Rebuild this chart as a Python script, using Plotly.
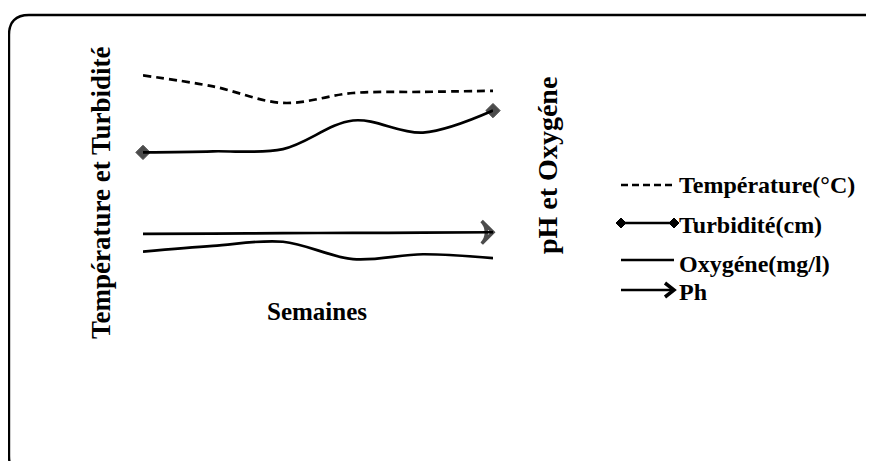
import plotly.graph_objects as go

# ---- data ----
weeks = [1, 2, 3, 4, 5, 6]
temperature = [28.6, 27.6, 26.1, 27.0, 27.1, 27.2]      # °C (left axis)
turbidity = [21.6, 21.7, 21.9, 24.5, 23.4, 25.4]         # cm (left axis)
oxygen = [7.129, 7.155, 7.174, 7.095, 7.117, 7.099]      # mg/l (right axis)
ph = [7.210, 7.211, 7.213, 7.214, 7.215, 7.217]          # (right axis)

series_names = ["Température(°C)", "Turbidité(cm)", "Oxygéne(mg/l)", "Ph"]
left_title = "Température et Turbidité"
right_title = "pH et Oxygéne"
x_title = "Semaines"

# page body has an 8px margin: figure is offset by (8, 8) in the screenshot
OX, OY = 8, 8
W, H = 866, 453
# plot area in screenshot coords: x 143..493, y 60..280
L = 143 - OX
R = W - (493 - OX)
T = 60 - OY
B = H - (280 - OY)
PW, PH = W - L - R, H - T - B


def px(x):
    """screenshot x -> paper x"""
    return (x - OX - L) / PW


def py(y):
    """screenshot y -> paper y"""
    return (H - B - (y - OY)) / PH


FONT = "Liberation Serif, Times New Roman, serif"
BLACK = "#000000"

fig = go.Figure()

fig.add_trace(go.Scatter(
    x=weeks, y=temperature, mode="lines", name=series_names[0],
    line=dict(color=BLACK, width=2.7, dash="8px,5px", shape="spline"),
    yaxis="y", cliponaxis=False, showlegend=False))

fig.add_trace(go.Scatter(
    x=weeks, y=turbidity, mode="lines+markers", name=series_names[1],
    line=dict(color=BLACK, width=2.7, shape="spline"),
    marker=dict(symbol="diamond", color=BLACK, line=dict(color=BLACK, width=1),
                size=[11 if i in (0, len(weeks) - 1) else 0 for i in range(len(weeks))]),
    yaxis="y", cliponaxis=False, showlegend=False))

fig.add_trace(go.Scatter(
    x=weeks, y=oxygen, mode="lines", name=series_names[2],
    line=dict(color=BLACK, width=2.7, shape="spline"),
    yaxis="y2", cliponaxis=False, showlegend=False))

fig.add_trace(go.Scatter(
    x=weeks, y=ph, mode="lines+markers", name=series_names[3],
    line=dict(color=BLACK, width=2.7, shape="spline"),
    marker=dict(symbol=["circle"] * (len(weeks) - 1) + ["arrow-wide-open"],
                angleref="previous", color=BLACK,
                line=dict(color=BLACK, width=3.5),
                size=[0] * (len(weeks) - 1) + [16]),
    yaxis="y2", cliponaxis=False, showlegend=False))

shapes = []
# rounded border (screenshot coords)
x0, y0, x1, y1, r = 9, 15, 884, 476, 20
path = (f"M {px(x0)},{py(y0 + r)} "
        f"Q {px(x0)},{py(y0)} {px(x0 + r)},{py(y0)} "
        f"L {px(x1 - r)},{py(y0)} "
        f"Q {px(x1)},{py(y0)} {px(x1)},{py(y0 + r)} "
        f"L {px(x1)},{py(y1 - r)} "
        f"Q {px(x1)},{py(y1)} {px(x1 - r)},{py(y1)} "
        f"L {px(x0 + r)},{py(y1)} "
        f"Q {px(x0)},{py(y1)} {px(x0)},{py(y1 - r)} Z")
shapes.append(dict(type="path", xref="paper", yref="paper", path=path,
                   line=dict(color=BLACK, width=2.4), layer="above"))

# manual legend
lx0, lx1 = 621, 674
rows_y = [185, 223, 260, 290]
text_y = [185, 225, 264, 292]
# dashed
shapes.append(dict(type="line", xref="paper", yref="paper",
                   x0=px(lx0), x1=px(lx1), y0=py(rows_y[0]), y1=py(rows_y[0]),
                   line=dict(color=BLACK, width=2.5, dash="7px,4px")))
# turbidity
shapes.append(dict(type="line", xref="paper", yref="paper",
                   x0=px(lx0), x1=px(lx1), y0=py(rows_y[1]), y1=py(rows_y[1]),
                   line=dict(color=BLACK, width=2.6)))
for cx in (lx0, lx1):
    d = 5
    cy = rows_y[1]
    shapes.append(dict(type="path", xref="paper", yref="paper",
                       path=(f"M {px(cx - d)},{py(cy)} L {px(cx)},{py(cy - d)} "
                             f"L {px(cx + d)},{py(cy)} L {px(cx)},{py(cy + d)} Z"),
                       fillcolor=BLACK, line=dict(color=BLACK, width=1)))
# oxygen
shapes.append(dict(type="line", xref="paper", yref="paper",
                   x0=px(lx0), x1=px(lx1), y0=py(rows_y[2]), y1=py(rows_y[2]),
                   line=dict(color=BLACK, width=2.6)))
# ph arrow
shapes.append(dict(type="line", xref="paper", yref="paper",
                   x0=px(lx0), x1=px(lx1 - 2), y0=py(rows_y[3]), y1=py(rows_y[3]),
                   line=dict(color=BLACK, width=2.6)))
cy = rows_y[3]
shapes.append(dict(type="path", xref="paper", yref="paper",
                   path=(f"M {px(lx1 - 9)},{py(cy - 7)} L {px(lx1)},{py(cy)} "
                         f"L {px(lx1 - 9)},{py(cy + 7)}"),
                   line=dict(color=BLACK, width=3.5)))

annotations = []
for name, ty in zip(series_names, text_y):
    annotations.append(dict(text=name, xref="paper", yref="paper",
                            x=px(677), y=py(ty), xanchor="left", yanchor="middle",
                            showarrow=False,
                            font=dict(family=FONT, size=24, color=BLACK, weight="bold")))

annotations.append(dict(text=left_title, xref="paper", yref="paper",
                        x=px(101), y=py(193), xanchor="center", yanchor="middle",
                        textangle=-90, showarrow=False,
                        font=dict(family=FONT, size=27, color=BLACK, weight="bold")))
annotations.append(dict(text=right_title, xref="paper", yref="paper",
                        x=px(547), y=py(166), xanchor="center", yanchor="middle",
                        textangle=-90, showarrow=False,
                        font=dict(family=FONT, size=28, color=BLACK, weight="bold")))
annotations.append(dict(text=x_title, xref="paper", yref="paper",
                        x=px(317), y=py(311), xanchor="center", yanchor="middle",
                        showarrow=False,
                        font=dict(family=FONT, size=25, color=BLACK, weight="bold")))

fig.update_layout(
    width=W, height=H,
    margin=dict(l=L, r=R, t=T, b=B),
    paper_bgcolor="white", plot_bgcolor="white",
    xaxis=dict(range=[1, 6], visible=False),
    yaxis=dict(range=[10, 30], visible=False),
    yaxis2=dict(range=[7, 8], visible=False, overlaying="y", side="right"),
    shapes=shapes, annotations=annotations, showlegend=False,
)

fig.write_html("out.html")
